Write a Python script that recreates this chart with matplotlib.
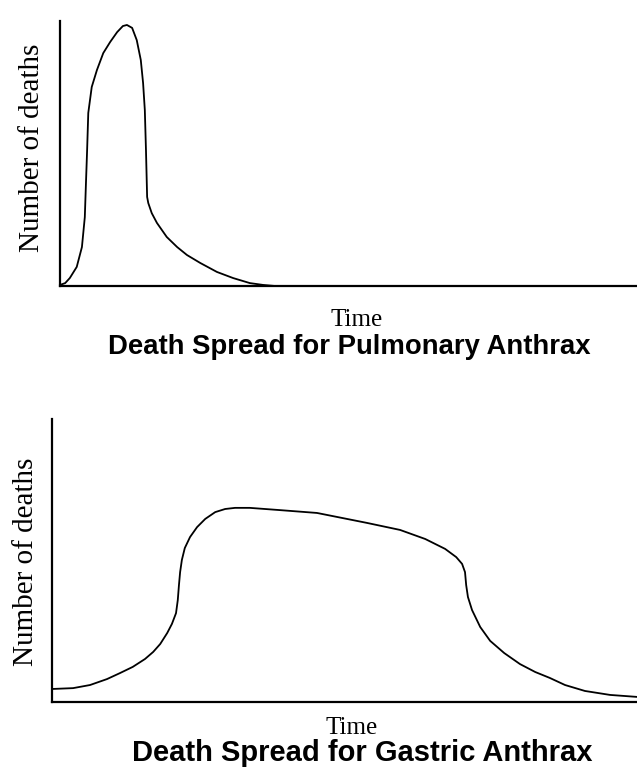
import matplotlib
matplotlib.use('Agg')
import matplotlib.pyplot as plt

# Curva de muertes - carbunco pulmonar (tiempo y muertes en unidades arbitrarias 0-100)
pulm_time = [0, 0.9, 1.7, 2.9, 3.8, 4.3, 4.5, 4.7, 4.9, 5.5, 6.4, 7.5, 8.7, 9.9, 10.9, 11.6,
             12.5, 13.3, 14.0, 14.4, 14.7, 14.9, 15.1, 15.3, 15.9, 16.8, 18.5, 20.3, 22.0, 24.3,
             27.2, 30.0, 32.9, 35.2, 37.3]
pulm_deaths = [0.4, 1.1, 3.0, 7.2, 14.7, 26.0, 38.9, 51.3, 65.3, 75.1, 81.5, 87.9, 92.1, 95.8, 98.1, 98.5,
               97.4, 92.8, 85.3, 76.6, 66.4, 51.3, 33.6, 31.3, 27.5, 23.8, 18.5, 14.7, 11.7, 8.7,
               5.3, 3.0, 1.1, 0.4, 0.0]

# Curva de muertes - carbunco gastrico
gast_time = [0, 3.6, 6.5, 9.4, 11.6, 13.8, 15.9, 17.3, 18.5, 19.7, 20.5, 21.2, 21.5, 21.7, 21.9, 22.2,
             22.7, 23.6, 24.8, 26.2, 27.9, 29.6, 31.3, 33.8, 39.0, 45.3, 53.8, 59.5, 63.8, 67.2,
             69.1, 70.1, 70.6, 70.8, 71.1, 71.8, 73.2, 74.9, 77.3, 80.0, 82.6, 85.1, 87.7, 91.1,
             95.4, 100]
gast_deaths = [4.6, 4.9, 6.0, 8.1, 10.2, 12.4, 15.2, 17.7, 20.5, 24.4, 27.6, 31.4, 36.0, 41.3, 45.9, 50.2,
               54.4, 58.3, 61.8, 64.7, 67.1, 68.2, 68.6, 68.6, 67.8, 66.8, 63.3, 60.8, 57.6, 54.1,
               51.2, 48.8, 45.9, 41.3, 37.1, 32.5, 26.5, 21.6, 17.3, 13.4, 10.6, 8.5, 6.0, 3.9,
               2.5, 1.8]

ylabel = 'Number of deaths'
xlabel = 'Time'
titles = ['Death Spread for Pulmonary Anthrax', 'Death Spread for Gastric Anthrax']

W, H = 637, 770
fig = plt.figure(figsize=(W / 100, H / 100), dpi=100)

serif = ['Liberation Serif', 'DejaVu Serif']
sans = ['Liberation Sans', 'DejaVu Sans']


def setup(ax):
    ax.set_xlim(0, 100)
    ax.set_ylim(0, 100)
    for side in ['top', 'right']:
        ax.spines[side].set_visible(False)
    for side in ['left', 'bottom']:
        ax.spines[side].set_linewidth(1.6)
        ax.spines[side].set_color('black')
    ax.set_xticks([])
    ax.set_yticks([])


# Panel superior
ax1 = fig.add_axes([60 / W, 1 - 286 / H, 577 / W, 265 / H])
setup(ax1)
ax1.plot(pulm_time, pulm_deaths, color='black', lw=1.3, clip_on=False, solid_joinstyle='round')

# Panel inferior
ax2 = fig.add_axes([52 / W, 1 - 702 / H, 585 / W, 283 / H])
setup(ax2)
ax2.plot(gast_time, gast_deaths, color='black', lw=1.3, clip_on=False, solid_joinstyle='round')

# Textos
fig.text(32 / W, 1 - 148 / H, ylabel, rotation=90, ha='center', va='center', family=serif, fontsize=21)
fig.text(357 / W, 1 - 320 / H, xlabel, ha='center', va='center', family=serif, fontsize=18)
fig.text(349 / W, 1 - 347 / H, titles[0], ha='center', va='center', family=sans, fontsize=19.8,
         fontweight='bold')

fig.text(26 / W, 1 - 562 / H, ylabel, rotation=90, ha='center', va='center', family=serif, fontsize=21)
fig.text(352 / W, 1 - 728 / H, xlabel, ha='center', va='center', family=serif, fontsize=18)
fig.text(362 / W, 1 - 753 / H, titles[1], ha='center', va='center', family=sans, fontsize=21,
         fontweight='bold')

fig.savefig('out.png', dpi=100, facecolor='white')
